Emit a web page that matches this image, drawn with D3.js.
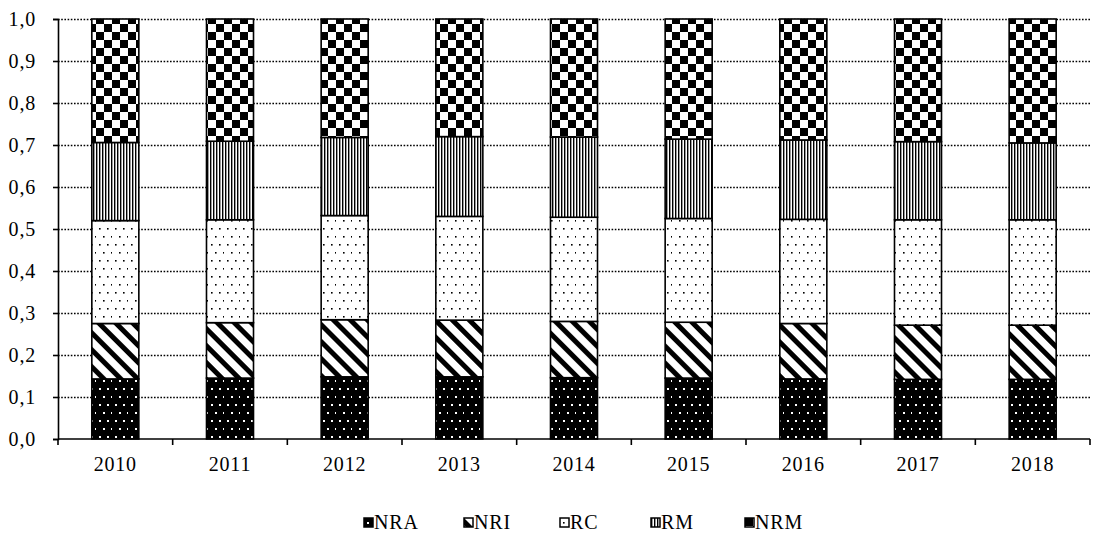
<!DOCTYPE html>
<html>
<head>
	<script src="https://cdn.jsdelivr.net/npm/d3@7"></script>
	<style>
		body { margin: 0; background: white; }
		svg text { font-family: "Liberation Serif", "Times New Roman", serif !important; font-size: 20px !important; letter-spacing: 0.8px; fill: black; }
	</style>
</head>
<body>
	<script>

		// years on the x axis
		var years = ["2010", "2011", "2012", "2013", "2014", "2015", "2016", "2017", "2018"];

		// series, bottom to top
		var series = ["NRA", "NRI", "RC", "RM", "NRM"];

		var nra = [0.143, 0.145, 0.148, 0.148, 0.146, 0.145, 0.143, 0.142, 0.142];
		var nri = [0.132, 0.132, 0.136, 0.135, 0.134, 0.133, 0.132, 0.129, 0.129];
		var rc  = [0.245, 0.245, 0.248, 0.247, 0.248, 0.247, 0.248, 0.251, 0.251];
		var rm  = [0.186, 0.187, 0.186, 0.190, 0.191, 0.189, 0.189, 0.186, 0.183];
		var nrm = [0.294, 0.291, 0.282, 0.280, 0.281, 0.286, 0.288, 0.292, 0.295];

		var yTicks = [0, 0.1, 0.2, 0.3, 0.4, 0.5, 0.6, 0.7, 0.8, 0.9, 1.0];

		var width = 1096, height = 541;
		var margin = {left: 58, right: 6, top: 19, bottom: 102};

		var svg = d3.select("body").append("svg")
			.attr("width", width)
			.attr("height", height);

		/* ---------- fill patterns ---------- */

		var defs = svg.append("defs");

		// NRA : black with small white dots
		var p = defs.append("pattern").attr("id", "p-NRA")
			.attr("patternUnits", "userSpaceOnUse").attr("width", 16).attr("height", 16);
		p.append("rect").attr("width", 16).attr("height", 16).attr("fill", "black");
		[[3, 4], [11, 4], [7, 12], [15, 12]].forEach(function(d) {
			p.append("rect").attr("x", d[0]).attr("y", d[1]).attr("width", 2).attr("height", 2).attr("fill", "white");
		});

		// NRI : wide diagonal stripes
		p = defs.append("pattern").attr("id", "p-NRI")
			.attr("patternUnits", "userSpaceOnUse").attr("width", 12).attr("height", 12)
			.attr("patternTransform", "rotate(45)");
		p.append("rect").attr("width", 12).attr("height", 12).attr("fill", "white");
		p.append("rect").attr("x", 0).attr("width", 12).attr("y", 0).attr("height", 5).attr("fill", "black");

		// RC : white with small black dots
		p = defs.append("pattern").attr("id", "p-RC")
			.attr("patternUnits", "userSpaceOnUse").attr("width", 16).attr("height", 16);
		p.append("rect").attr("width", 16).attr("height", 16).attr("fill", "white");
		[[3, 4], [11, 4], [7, 12], [15, 12]].forEach(function(d) {
			p.append("rect").attr("x", d[0]).attr("y", d[1]).attr("width", 1.6).attr("height", 1.6).attr("fill", "black");
		});

		// RM : thin vertical lines
		p = defs.append("pattern").attr("id", "p-RM")
			.attr("patternUnits", "userSpaceOnUse").attr("width", 3).attr("height", 3);
		p.append("rect").attr("width", 3).attr("height", 3).attr("fill", "white");
		p.append("rect").attr("x", 0).attr("width", 1.4).attr("height", 3).attr("fill", "black");

		// NRM : checkerboard
		p = defs.append("pattern").attr("id", "p-NRM")
			.attr("patternUnits", "userSpaceOnUse").attr("width", 16).attr("height", 16);
		p.append("rect").attr("width", 16).attr("height", 16).attr("fill", "white");
		p.append("rect").attr("width", 8).attr("height", 8).attr("fill", "black");
		p.append("rect").attr("x", 8).attr("y", 8).attr("width", 8).attr("height", 8).attr("fill", "black");

		/* ---------- scales ---------- */

		var x = d3.scaleBand()
			.domain(years)
			.range([margin.left, width - margin.right])
			.paddingInner(0.59)
			.paddingOuter(0.295);

		var y = d3.scaleLinear()
			.domain([0, 1])
			.range([height - margin.bottom, margin.top]);

		// grid lines
		svg.append("g")
			.selectAll("line")
			.data(yTicks.slice(1))
			.join("line")
			.attr("x1", margin.left)
			.attr("x2", width - margin.right)
			.attr("y1", function(d) { return Math.round(y(d)) + 0.5; })
			.attr("y2", function(d) { return Math.round(y(d)) + 0.5; })
			.attr("stroke", "black")
			.attr("stroke-width", 1.6)
			.attr("stroke-dasharray", "1.6,1.6");

		/* ---------- stacked bars ---------- */

		var table = years.map(function(yr, i) {
			return {year: yr, NRA: nra[i], NRI: nri[i], RC: rc[i], RM: rm[i], NRM: nrm[i]};
		});

		var stack = d3.stack().keys(series)(table);

		svg.append("g")
			.selectAll("g")
			.data(stack)
			.join("g")
			.attr("fill", function(d) { return "url(#p-" + d.key + ")"; })
			.selectAll("rect")
			.data(function(d) { return d; })
			.join("rect")
			.attr("x", function(d) { return x(d.data.year); })
			.attr("y", function(d) { return y(d[1]); })
			.attr("width", x.bandwidth())
			.attr("height", function(d) { return y(d[0]) - y(d[1]); })
			.attr("stroke", "black")
			.attr("stroke-width", 1.6);

		/* ---------- axes ---------- */

		var fmt = function(d) { return d3.format(".1f")(d).replace(".", ","); };

		var yAxis = svg.append("g")
			.attr("transform", "translate(" + margin.left + ",0)")
			.call(d3.axisLeft(y).tickValues(yTicks).tickFormat(fmt).tickSize(5).tickPadding(17));
		yAxis.select(".domain").attr("stroke-width", 1.6);
		yAxis.selectAll(".tick line").attr("stroke-width", 1.6);

		var xAxis = svg.append("g")
			.attr("transform", "translate(0," + y(0) + ")");
		xAxis.append("line")
			.attr("x1", margin.left).attr("x2", width - margin.right)
			.attr("stroke", "black").attr("stroke-width", 1.6);

		var step = x.step();
		var bounds = years.map(function(d) { return x(d) + x.bandwidth() / 2 + step / 2; });
		bounds.unshift(x(years[0]) + x.bandwidth() / 2 - step / 2);
		xAxis.selectAll(".xtick")
			.data(bounds)
			.join("line")
			.attr("class", "xtick")
			.attr("x1", function(d) { return d; })
			.attr("x2", function(d) { return d; })
			.attr("y1", 0).attr("y2", 6)
			.attr("stroke", "black").attr("stroke-width", 1.6);

		xAxis.selectAll(".xlab")
			.data(years)
			.join("text")
			.attr("class", "xlab")
			.attr("x", function(d) { return x(d) + x.bandwidth() / 2; })
			.attr("y", 32)
			.attr("text-anchor", "middle")
			.text(function(d) { return d; });

		/* ---------- legend ---------- */

		var legendX = [364, 464, 560, 651, 745];
		var legend = svg.append("g")
			.selectAll("g")
			.data(series)
			.join("g")
			.attr("transform", function(d, i) { return "translate(" + legendX[i] + ",518)"; });

		legend.append("rect")
			.attr("width", 9).attr("height", 9)
			.attr("fill", function(d) { return "url(#p-" + d + ")"; })
			.attr("stroke", "black").attr("stroke-width", 1.5);

		legend.append("text")
			.attr("x", 10)
			.attr("y", 11)
			.text(function(d) { return d; });

	</script>
</body>
</html>
